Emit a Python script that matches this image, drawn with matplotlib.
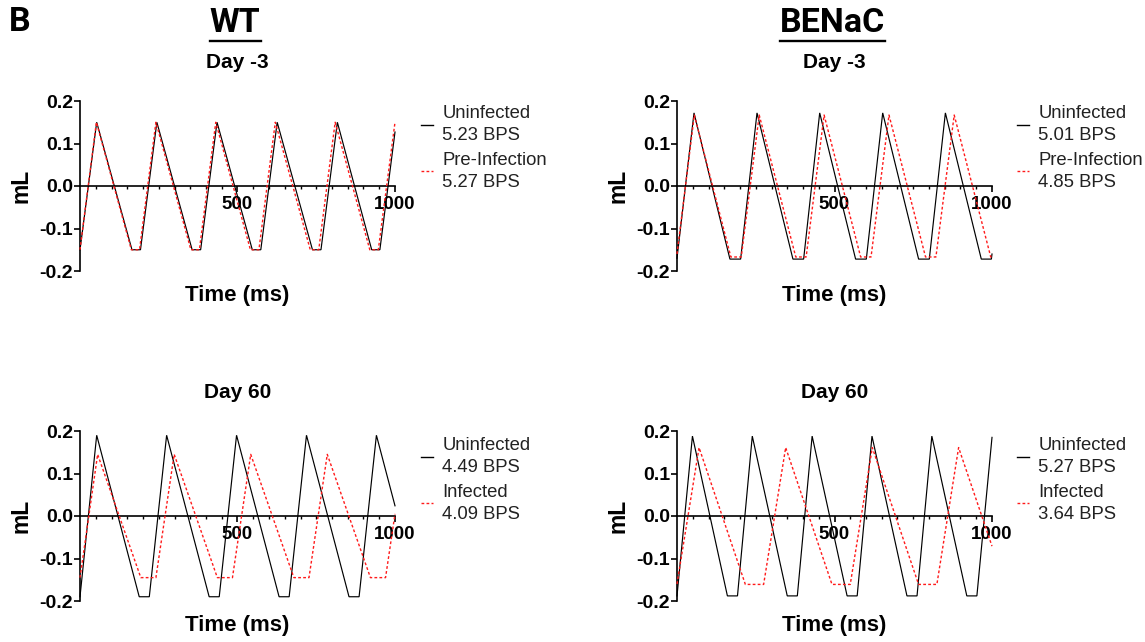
import matplotlib
matplotlib.use('Agg')
import matplotlib.pyplot as plt
from matplotlib.ticker import FixedLocator, FormatStrFormatter
from matplotlib.lines import Line2D

plt.rcParams['font.family'] = ['Liberation Sans', 'DejaVu Sans']
plt.rcParams['font.weight'] = 'bold'
plt.rcParams['axes.unicode_minus'] = False

# ---------------- data (vertices of the breathing waveforms, ms / mL) ----------------
# WT, Day -3
wt_d3_uninf_t = [0, 53, 165, 192, 244, 356, 383, 435, 547, 574, 626, 738, 765, 817, 926, 952, 1000]
wt_d3_uninf_v = [-0.15, 0.15, -0.15, -0.15, 0.15, -0.15, -0.15, 0.15, -0.15, -0.15, 0.15, -0.15, -0.15, 0.15, -0.15, -0.15, 0.127]
wt_d3_pre_t = [0, 52, 163, 189, 241, 352, 379, 431, 541, 568, 620, 731, 758, 810, 920, 947, 1000]
wt_d3_pre_v = [-0.15, 0.15, -0.15, -0.15, 0.15, -0.15, -0.15, 0.15, -0.15, -0.15, 0.15, -0.15, -0.15, 0.15, -0.15, -0.15, 0.15]

# BENaC, Day -3
be_d3_uninf_t = [0, 54, 168, 202, 254, 368, 402, 453, 567, 601, 653, 767, 801, 852, 966, 998, 1000]
be_d3_uninf_v = [-0.17, 0.172, -0.172, -0.172, 0.172, -0.172, -0.172, 0.172, -0.172, -0.172, 0.172, -0.172, -0.172, 0.172, -0.172, -0.172, -0.16]
be_d3_pre_t = [0, 55, 171, 204, 261, 377, 410, 467, 583, 616, 673, 789, 822, 880, 996, 1000]
be_d3_pre_v = [-0.16, 0.167, -0.167, -0.167, 0.167, -0.167, -0.167, 0.167, -0.167, -0.167, 0.167, -0.167, -0.167, 0.167, -0.167, -0.167]

# WT, Day 60
wt_d60_uninf_t = [0, 53, 188, 220, 275, 410, 442, 497, 632, 664, 719, 854, 886, 941, 1000]
wt_d60_uninf_v = [-0.19, 0.19, -0.19, -0.19, 0.19, -0.19, -0.19, 0.19, -0.19, -0.19, 0.19, -0.19, -0.19, 0.19, 0.024]
wt_d60_inf_t = [0, 56, 193, 241, 299, 436, 484, 542, 679, 727, 785, 922, 970, 1000]
wt_d60_inf_v = [-0.145, 0.145, -0.145, -0.145, 0.145, -0.145, -0.145, 0.145, -0.145, -0.145, 0.145, -0.145, -0.145, 0.005]

# BENaC, Day 60
be_d60_uninf_t = [0, 49, 160, 192, 239, 350, 382, 429, 540, 572, 619, 730, 762, 809, 920, 952, 1000]
be_d60_uninf_v = [-0.188, 0.188, -0.188, -0.188, 0.188, -0.188, -0.188, 0.188, -0.188, -0.188, 0.188, -0.188, -0.188, 0.188, -0.188, -0.188, 0.185]
be_d60_inf_t = [0, 70, 217, 275, 345, 492, 550, 620, 767, 825, 894, 1000]
be_d60_inf_v = [-0.16, 0.161, -0.161, -0.161, 0.161, -0.161, -0.161, 0.161, -0.161, -0.161, 0.161, -0.071]

group_names = ['WT', 'BENaC']
day_titles = ['Day -3', 'Day 60']
series_names = [['Uninfected', 'Pre-Infection'], ['Uninfected', 'Infected']]
bps = {('WT', 'Day -3'): [5.23, 5.27], ('BENaC', 'Day -3'): [5.01, 4.85],
       ('WT', 'Day 60'): [4.49, 4.09], ('BENaC', 'Day 60'): [5.27, 3.64]}
traces = {('WT', 'Day -3'): (wt_d3_uninf_t, wt_d3_uninf_v, wt_d3_pre_t, wt_d3_pre_v),
          ('BENaC', 'Day -3'): (be_d3_uninf_t, be_d3_uninf_v, be_d3_pre_t, be_d3_pre_v),
          ('WT', 'Day 60'): (wt_d60_uninf_t, wt_d60_uninf_v, wt_d60_inf_t, wt_d60_inf_v),
          ('BENaC', 'Day 60'): (be_d60_uninf_t, be_d60_uninf_v, be_d60_inf_t, be_d60_inf_v)}
y_ticks = [-0.2, -0.1, 0.0, 0.1, 0.2]
x_major = [500, 1000]
x_minor = [50, 100, 150, 200, 250, 300, 350, 400, 450, 550, 600, 650, 700, 750, 800, 850, 900, 950]

# ---------------- layout ----------------
W, H = 1145, 642
fig = plt.figure(figsize=(W / 100, H / 100), dpi=100)

col_x = {'WT': (80, 395), 'BENaC': (677, 992)}
row_y = {'Day -3': (101, 271), 'Day 60': (431, 601)}
leg_x = {'WT': 421, 'BENaC': 1017}
leg_y = {'Day -3': 0.975, 'Day 60': 0.965}
RED = '#ff1a1a'
DASH = (0, (2.0, 1.6))

for g in group_names:
    for di, d in enumerate(day_titles):
        x0, x1 = col_x[g]
        yt, yb = row_y[d]
        ax = fig.add_axes([x0 / W, 1 - yb / H, (x1 - x0) / W, (yb - yt) / H])
        tu, vu, ti, vi = traces[(g, d)]
        ax.plot(tu, vu, color='black', lw=0.85, solid_joinstyle='miter', clip_on=False, zorder=3)
        ax.plot(ti, vi, color=RED, lw=1.0, ls=DASH, clip_on=False, zorder=4)
        ax.set_xlim(0, 1000)
        ax.set_ylim(-0.2, 0.2)
        for s in ['top', 'right']:
            ax.spines[s].set_visible(False)
        ax.spines['bottom'].set_position(('data', 0))
        ax.spines['left'].set_linewidth(1.2)
        ax.spines['bottom'].set_linewidth(1.2)
        ax.spines['bottom'].set_zorder(2)
        ax.xaxis.set_major_locator(FixedLocator(x_major))
        ax.xaxis.set_minor_locator(FixedLocator(x_minor))
        ax.yaxis.set_major_locator(FixedLocator(y_ticks))
        ax.yaxis.set_major_formatter(FormatStrFormatter('%.1f'))
        ax.tick_params(axis='x', which='major', direction='out', length=4, width=1.2,
                       pad=3, labelsize=13.5)
        ax.tick_params(axis='x', which='minor', direction='out', length=2.5, width=1.0)
        ax.tick_params(axis='y', which='major', direction='out', length=4, width=1.2,
                       pad=1, labelsize=14)
        ax.patch.set_alpha(0)
        ax.set_xlabel('Time (ms)', fontsize=16, fontweight='bold')
        ax.xaxis.set_label_coords(0.5, -0.085)
        ax.set_ylabel('mL', fontsize=16.5, fontweight='bold')
        ax.yaxis.set_label_coords(-0.15, 0.5)
        # legend
        names = series_names[di]
        vals = bps[(g, d)]
        handles = [Line2D([], [], color='black', lw=1.0),
                   Line2D([], [], color=RED, lw=1.0, ls=DASH)]
        labels = [f'{names[0]}\n{vals[0]:.2f} BPS', f'{names[1]}\n{vals[1]:.2f} BPS']
        leg = ax.legend(handles, labels, loc='upper left',
                        bbox_to_anchor=((leg_x[g] - x0) / (x1 - x0), leg_y[d]),
                        frameon=False, borderpad=0, borderaxespad=0,
                        handlelength=0.65, handletextpad=0.5, labelspacing=0.4,
                        prop={'family': 'Liberation Sans', 'weight': 'normal', 'size': 13.3})
        for txt in leg.get_texts():
            txt.set_color('#222222')
            txt.set_linespacing(1.4)
        # panel title
        fig.text((x0 + x1) / 2 / W, 1 - (yt - 38) / H, d, ha='center', va='center',
                 fontsize=15, fontweight='bold')

# group headers with underline
fig.canvas.draw()
renderer = fig.canvas.get_renderer()
for g in group_names:
    x0, x1 = col_x[g]
    t = fig.text((x0 + x1) / 2 / W - 0.002, 1 - 23 / H, g, ha='center', va='center',
                 fontsize=24.5, fontweight='bold', family=['Roboto', 'DejaVu Sans'])
    bb = t.get_window_extent(renderer)
    fig.add_artist(Line2D([bb.x0 / W, bb.x1 / W], [1 - 41 / H, 1 - 41 / H],
                          color='black', lw=1.7, transform=fig.transFigure))
fig.text(20 / W, 1 - 22 / H, 'B', ha='center', va='center', fontsize=24.5,
         fontweight='bold', family=['Roboto', 'DejaVu Sans'])

fig.savefig('out.png', dpi=100)
